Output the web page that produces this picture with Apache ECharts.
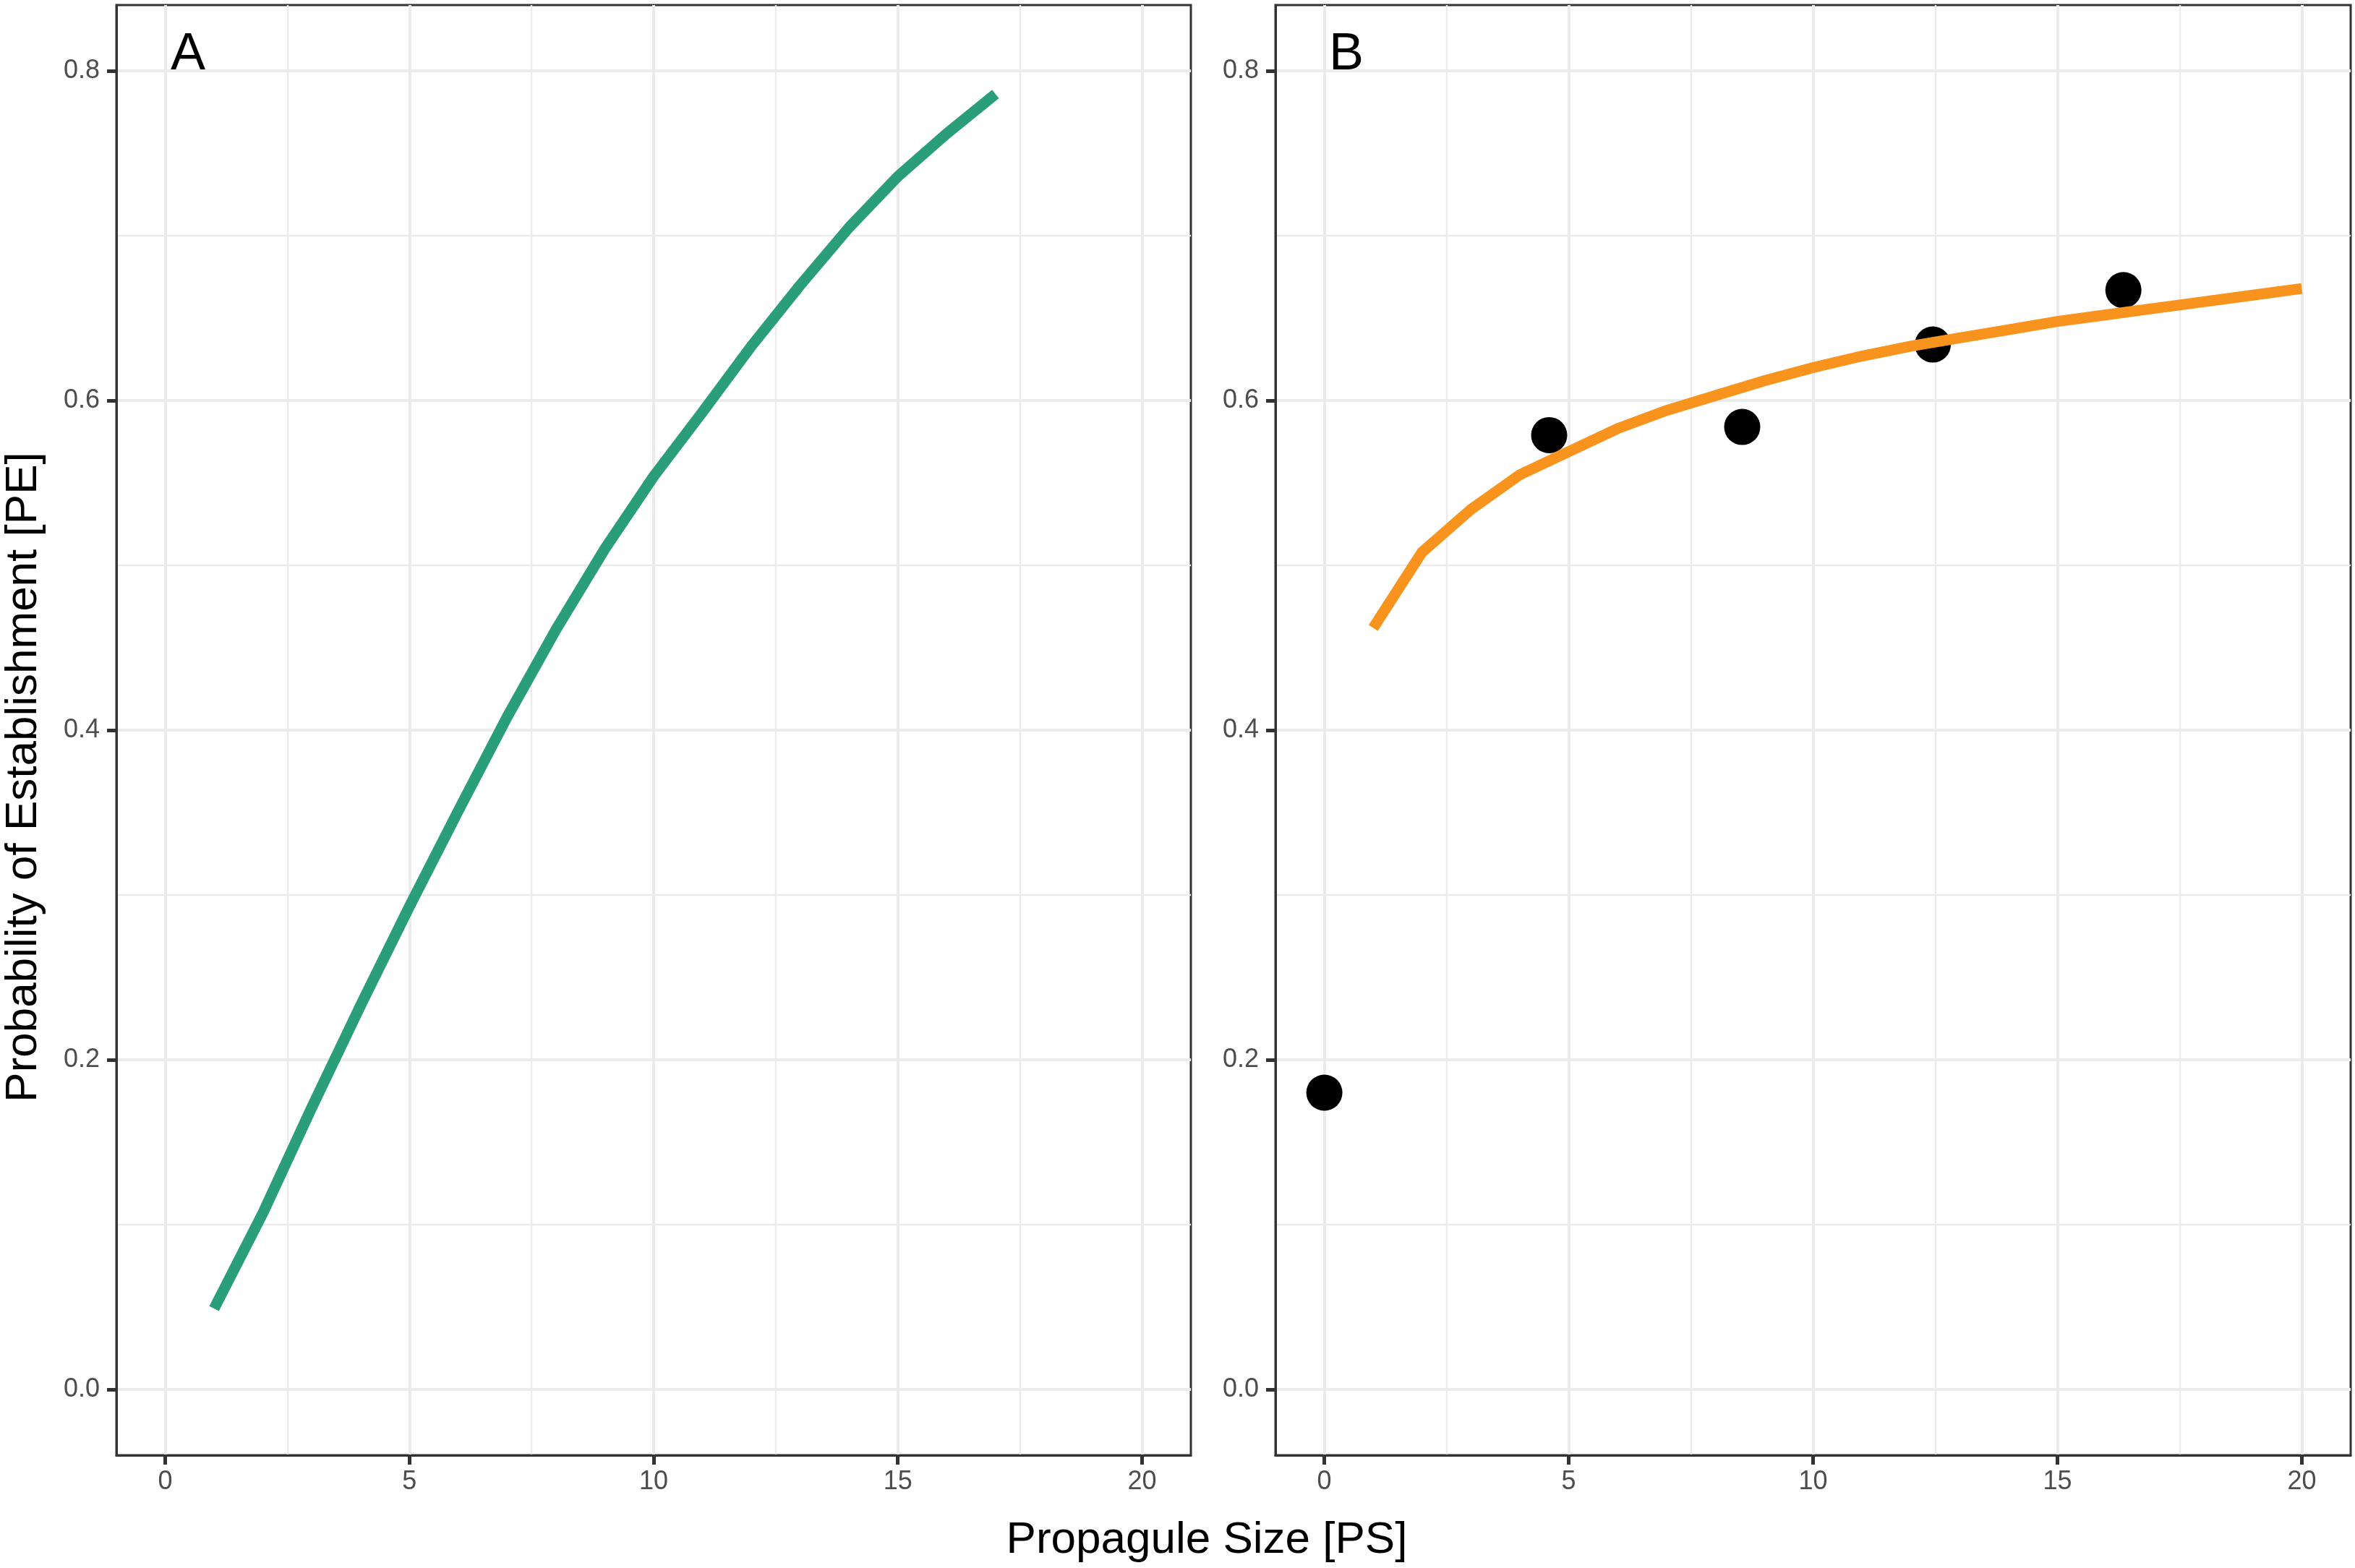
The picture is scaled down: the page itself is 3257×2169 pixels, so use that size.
<!DOCTYPE html>
<html>
<head>
<meta charset="utf-8">
<script src="https://cdn.jsdelivr.net/npm/echarts@6/dist/echarts.min.js"></script>
<style>
html,body{margin:0;padding:0;background:#ffffff;}
#chart{width:3257px;height:2169px;}
</style>
</head>
<body>
<div id="chart"></div>
<script>
// ---- data ----
const psA = [1,2,3,4,5,6,7,8,9,10,11,12,13,14,15,16,17];
const peA = [0.049,0.107,0.171,0.233,0.293,0.351,0.408,0.461,0.510,0.554,0.593,0.633,0.670,0.705,0.736,0.762,0.786];
const psB = [1,2,3,4,5,6,7,8,9,10,11,12,13,14,15,16,17,18,19,20];
const peB = [0.462,0.508,0.534,0.555,0.569,0.583,0.594,0.603,0.612,0.620,0.627,0.633,0.638,0.643,0.648,0.652,0.656,0.660,0.664,0.668];
const obsPS = [0, 4.6, 8.55, 12.45, 16.35];
const obsPE = [0.18, 0.579, 0.584, 0.634, 0.667];
const xMajor = [0,5,10,15,20];
const xMinor = [2.5,7.5,12.5,17.5];
const yMajor = [0,0.2,0.4,0.6,0.8];
const yMinor = [0.1,0.3,0.5,0.7];
const panelLabels = ['A','B'];
const xTitle = 'Propagule Size [PS]';
const yTitle = 'Probability of Establishment [PE]';

const FONT = "'Liberation Sans', Arial, Helvetica, sans-serif";
const GRID_COLOR = '#EBEBEB';
const BORDER = '#333333';

const grids = [
  {left:161, top:7, width:1486, height:2006},
  {left:1764, top:7, width:1487, height:2006}
];

function majorX(i){
  return {
    type:'value', gridIndex:i, min:-1, max:21, position:'bottom',
    axisLine:{show:true, onZero:false, lineStyle:{color:BORDER, width:3}},
    axisTick:{show:true, inside:false, length:13, lineStyle:{color:BORDER, width:5}, customValues:xMajor},
    axisLabel:{show:true, customValues:xMajor, fontSize:36, color:'#4D4D4D', fontFamily:FONT, margin:19,
      formatter:v=>String(v)},
    splitLine:{show:true, lineStyle:{color:GRID_COLOR, width:4}}
  };
}
function minorX(i){
  return {
    type:'value', gridIndex:i, min:-1, max:21, position:'top',
    axisLine:{show:false, onZero:false},
    axisTick:{show:false, customValues:xMinor},
    axisLabel:{show:false},
    splitLine:{show:true, lineStyle:{color:GRID_COLOR, width:2.4}}
  };
}
function majorY(i){
  return {
    type:'value', gridIndex:i, min:-0.04, max:0.84, position:'left',
    axisLine:{show:true, onZero:false, lineStyle:{color:BORDER, width:3}},
    axisTick:{show:true, inside:false, length:13, lineStyle:{color:BORDER, width:5}, customValues:yMajor},
    axisLabel:{show:true, customValues:yMajor, fontSize:36, color:'#4D4D4D', fontFamily:FONT, margin:23,
      formatter:v=>v.toFixed(1)},
    splitLine:{show:true, lineStyle:{color:GRID_COLOR, width:4}}
  };
}
function minorY(i){
  return {
    type:'value', gridIndex:i, min:-0.04, max:0.84, position:'right',
    axisLine:{show:false, onZero:false},
    axisTick:{show:false, customValues:yMinor},
    axisLabel:{show:false},
    splitLine:{show:true, lineStyle:{color:GRID_COLOR, width:2.4}}
  };
}

const option = {
  animation:false,
  backgroundColor:'#ffffff',
  grid: grids.map(g => Object.assign({show:true, borderColor:BORDER, borderWidth:3, backgroundColor:'transparent', containLabel:false}, g)),
  xAxis:[majorX(0), minorX(0), majorX(1), minorX(1)],
  yAxis:[majorY(0), minorY(0), majorY(1), minorY(1)],
  series:[
    {
      type:'line', xAxisIndex:0, yAxisIndex:0, z:3,
      data: psA.map((x,i)=>[x, peA[i]]),
      showSymbol:false, symbol:'none',
      lineStyle:{color:'#2A9E78', width:15, cap:'butt', join:'round'}
    },
    {
      type:'scatter', xAxisIndex:2, yAxisIndex:2, z:2,
      data: obsPS.map((x,i)=>[x, obsPE[i]]),
      symbol:'circle', symbolSize:50,
      itemStyle:{color:'#000000', opacity:1}
    },
    {
      type:'line', xAxisIndex:2, yAxisIndex:2, z:3,
      data: psB.map((x,i)=>[x, peB[i]]),
      showSymbol:false, symbol:'none',
      lineStyle:{color:'#F8931D', width:15, cap:'butt', join:'miter'}
    }
  ],
  graphic:[
    {type:'text', x:236, y:76, z:10,
      style:{text:panelLabels[0], fontSize:72, fontFamily:FONT, fill:'#000', textAlign:'left', textVerticalAlign:'middle', align:'left', verticalAlign:'middle'}},
    {type:'text', x:1838, y:76, z:10,
      style:{text:panelLabels[1], fontSize:72, fontFamily:FONT, fill:'#000', textAlign:'left', textVerticalAlign:'middle', align:'left', verticalAlign:'middle'}},
    {type:'text', x:1669, y:2131, z:10,
      style:{text:xTitle, fontSize:62, fontFamily:FONT, fill:'#000', textAlign:'center', textVerticalAlign:'middle', align:'center', verticalAlign:'middle'}},
    {type:'text', x:33, y:1075, rotation:Math.PI/2, z:10,
      style:{text:yTitle, fontSize:62, fontFamily:FONT, fill:'#000', textAlign:'center', textVerticalAlign:'middle', align:'center', verticalAlign:'middle'}}
  ]
};

const chart = echarts.init(document.getElementById('chart'), null, {renderer:'canvas'});
chart.setOption(option);
</script>
</body>
</html>
